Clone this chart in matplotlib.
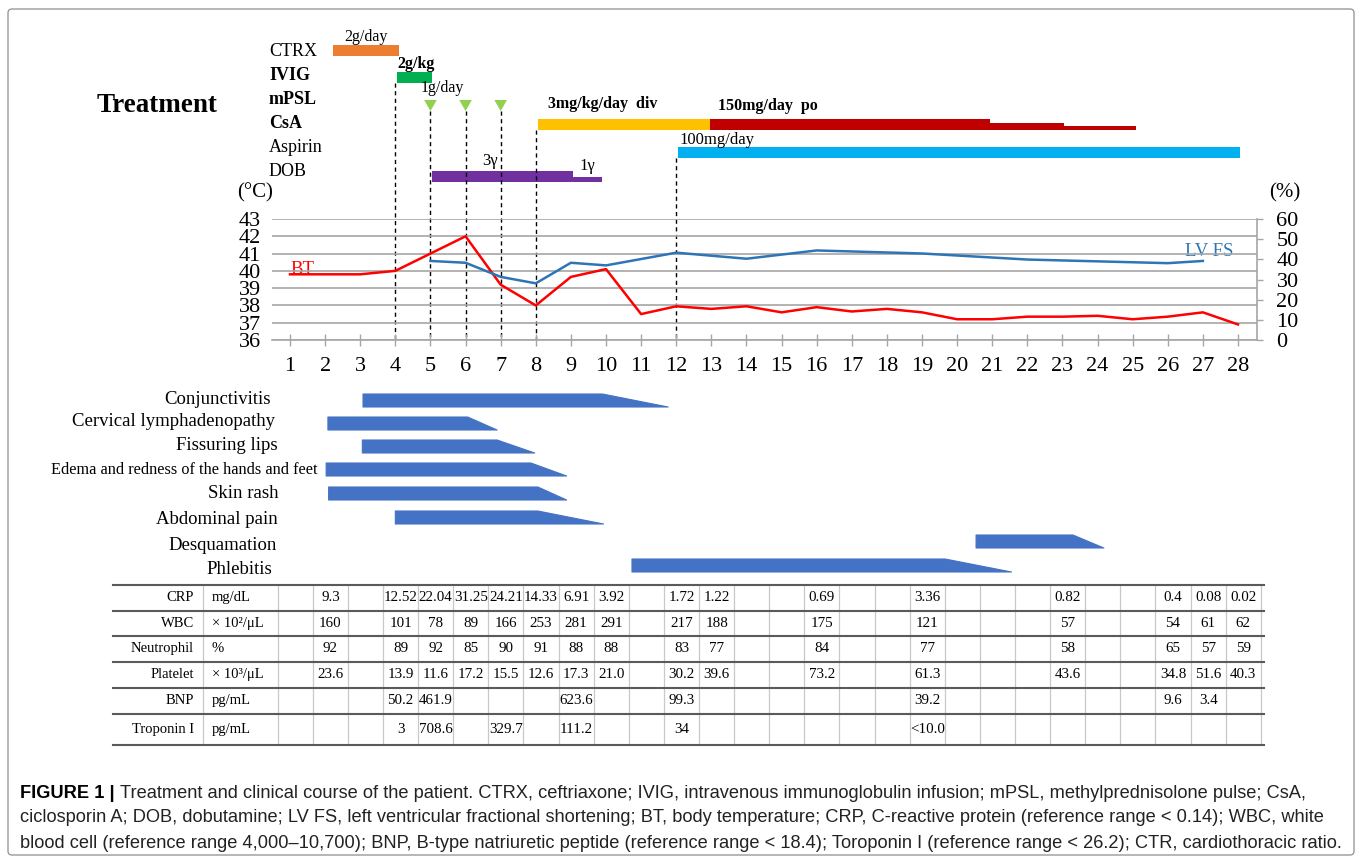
import matplotlib
matplotlib.use('Agg')
import matplotlib.pyplot as plt
from matplotlib.patches import Polygon, FancyBboxPatch
from matplotlib.transforms import IdentityTransform

# ---------------- data ----------------
days = list(range(1, 29))
bt = [39.8, 39.8, 39.8, 40.0, 41.0, 42.0, 39.2, 38.0, 39.65, 40.1, 37.5, 37.95,
      37.8, 37.95, 37.6, 37.9, 37.65, 37.8, 37.6, 37.2, 37.2, 37.35, 37.35, 37.4,
      37.2, 37.35, 37.6, 36.9]
fs_days = [5, 6, 7, 8, 9, 10, 12, 14, 16, 19, 22, 26, 27]
lvfs = [39.2, 38.3, 31.3, 28.1, 38.3, 37.0, 43.3, 40.3, 44.4, 42.9, 39.9, 38.1, 39.2]

treat_names = ['CTRX', 'IVIG', 'mPSL', 'CsA', 'Aspirin', 'DOB']
treat_bold = [False, True, True, True, False, False]
ctrx = (2.22, 4.10)
ivig = (4.05, 5.04)
mpsl_days = [5, 6, 7]
csa_iv = (8.05, 12.95)
csa_po_start = [12.95, 20.95, 23.05]
csa_po_end = [20.95, 23.05, 25.10]
csa_po_rel = [1.0, 0.62, 0.3]
aspirin = (12.05, 28.05)
dob_start = [5.05, 9.05]
dob_end = [9.05, 9.90]
dob_rel = [1.0, 0.45]
dashed_days = [4, 5, 6, 7, 8, 12]

symptoms = ['Conjunctivitis', 'Cervical lymphadenopathy', 'Fissuring lips',
            'Edema and redness of the hands and feet', 'Skin rash',
            'Abdominal pain', 'Desquamation', 'Phlebitis']
sym_start = [3.08, 2.08, 3.06, 2.03, 2.10, 4.00, 20.54, 10.74]
sym_flat_end = [9.90, 6.06, 6.90, 7.86, 8.06, 8.06, 23.30, 19.66]
sym_end = [11.77, 6.90, 7.97, 8.88, 8.88, 9.93, 24.18, 21.55]

lab_names = ['CRP', 'WBC', 'Neutrophil', 'Platelet', 'BNP', 'Troponin I']
lab_units = ['mg/dL', '× 10²/μL', '%', '× 10³/μL', 'pg/mL', 'pg/mL']
lab_days_main = [2, 4, 5, 6, 7, 8, 9, 10, 12, 13, 16, 19, 23, 26, 27, 28]
crp = ['9.3', '12.52', '22.04', '31.25', '24.21', '14.33', '6.91', '3.92', '1.72',
       '1.22', '0.69', '3.36', '0.82', '0.4', '0.08', '0.02']
wbc = ['160', '101', '78', '89', '166', '253', '281', '291', '217', '188', '175',
       '121', '57', '54', '61', '62']
neut = ['92', '89', '92', '85', '90', '91', '88', '88', '83', '77', '84', '77',
        '58', '65', '57', '59']
plt_vals = ['23.6', '13.9', '11.6', '17.2', '15.5', '12.6', '17.3', '21.0', '30.2',
            '39.6', '73.2', '61.3', '43.6', '34.8', '51.6', '40.3']
bnp_days = [4, 5, 9, 12, 19, 26, 27]
bnp = ['50.2', '461.9', '623.6', '99.3', '39.2', '9.6', '3.4']
tni_days = [4, 5, 7, 9, 12, 19]
tni = ['3', '708.6', '329.7', '111.2', '34', '<10.0']

caption_bold = 'FIGURE 1 |'
caption_lines = [
    'Treatment and clinical course of the patient. CTRX, ceftriaxone; IVIG, intravenous immunoglobulin infusion; mPSL, methylprednisolone pulse; CsA,',
    'ciclosporin A; DOB, dobutamine; LV FS, left ventricular fractional shortening; BT, body temperature; CRP, C-reactive protein (reference range < 0.14); WBC, white',
    'blood cell (reference range 4,000–10,700); BNP, B-type natriuretic peptide (reference range < 18.4); Toroponin I (reference range < 26.2); CTR, cardiothoracic ratio.',
]

# ---------------- layout ----------------
W, H = 1357, 860
D1, D28 = 290.0, 1238.0
PPD = (D28 - D1) / 27.0


def px2day(px):
    return 1 + (px - D1) / PPD


SERIF = ['Liberation Serif', 'DejaVu Serif']
CAPF = ['Liberation Sans Narrow', 'Liberation Sans', 'DejaVu Sans']
plt.rcParams['font.family'] = SERIF

fig = plt.figure(figsize=(W / 100, H / 100), dpi=100)
ov = fig.add_axes([0, 0, 1, 1])
ov.set_xlim(px2day(0), px2day(W))
ov.set_ylim(H, 0)
ov.axis('off')

# outer frame
fig.add_artist(FancyBboxPatch((8, 5), 1346, 846, boxstyle='round,pad=0,rounding_size=4',
                              fc='none', ec='#9a9a9a', lw=1.0, transform=IdentityTransform()))

# ---------------- treatment ----------------
ov.text(px2day(97), 106, 'Treatment', fontsize=19.5, weight='bold', va='center', ha='left')
row_y = [51, 76, 100, 124, 148, 172]
for nm, b, y in zip(treat_names, treat_bold, row_y):
    ov.text(px2day(269), y, nm, fontsize=13, weight='bold' if b else 'normal',
            va='center', ha='left')

BH = 11
ov.barh(50.5, ctrx[1] - ctrx[0], left=ctrx[0], height=BH, color='#ED7D31')
ov.text((ctrx[0] + ctrx[1]) / 2, 37, '2g/day', fontsize=11.5, ha='center', va='center')
ov.barh(77.5, ivig[1] - ivig[0], left=ivig[0], height=BH, color='#00B050')
ov.text(ivig[0] + 0.02, 64, '2g/kg', fontsize=11.5, weight='bold', ha='left', va='center')
for d in mpsl_days:
    ov.fill([d - 0.18, d + 0.18, d], [100, 100, 111], color='#92D050', lw=0)
ov.text(px2day(421), 88, '1g/day', fontsize=11.5, ha='left', va='center')
csa_bottom = 129.5
ov.barh(csa_bottom - BH / 2, csa_iv[1] - csa_iv[0], left=csa_iv[0], height=BH, color='#FFC000')
for s, e, r in zip(csa_po_start, csa_po_end, csa_po_rel):
    h = BH * r
    ov.barh(csa_bottom - h / 2, e - s, left=s, height=h, color='#C00000')
ov.text(px2day(548), 104, '3mg/kg/day  div', fontsize=11.5, weight='bold', ha='left', va='center')
ov.text(px2day(718), 106, '150mg/day  po', fontsize=11.5, weight='bold', ha='left', va='center')
ov.barh(152.5, aspirin[1] - aspirin[0], left=aspirin[0], height=BH, color='#00B0F0')
ov.text(px2day(679), 140, '100mg/day', fontsize=12, ha='left', va='center')
dob_bottom = 182
for s, e, r in zip(dob_start, dob_end, dob_rel):
    h = BH * r
    ov.barh(dob_bottom - h / 2, e - s, left=s, height=h, color='#7030A0')
ov.text(px2day(490), 161, '3γ', fontsize=12, ha='center', va='center')
ov.text(px2day(587), 166, '1γ', fontsize=12, ha='center', va='center')

dash_top = [83, 111, 111, 111, 129.5, 158]
for d, t in zip(dashed_days, dash_top):
    ov.plot([d, d], [t, 340], color='black', lw=1.0, ls=(0, (3, 2.5)))

# ---------------- main chart ----------------
L, R, T, B = 272, 1257, 219, 340
ax = fig.add_axes([L / W, 1 - B / H, (R - L) / W, (B - T) / H])
ax.patch.set_alpha(0)
ax.set_xlim(px2day(L), px2day(R))
ax.set_ylim(36, 43)
ax.set_yticks(range(36, 44))
ax.yaxis.grid(True, color='#a6a6a6', lw=1.2)
ax.set_axisbelow(True)
for sp in ['left', 'top']:
    ax.spines[sp].set_visible(False)
for sp in ['right', 'bottom']:
    ax.spines[sp].set_color('#a6a6a6')
    ax.spines[sp].set_linewidth(1.2)
ax.tick_params(axis='y', length=0, pad=8, labelsize=16)
ax.set_xticks(days)
ax.set_xticklabels([str(d) for d in days])
ax.tick_params(axis='x', direction='inout', length=9, width=1.0, color='#a6a6a6',
               pad=8, labelsize=16)
ax.plot(days, bt, color='#FF0000', lw=1.8)

ax2 = ax.twinx()
ax2.set_ylim(0, 60)
ax2.set_yticks(range(0, 61, 10))
for sp in ax2.spines.values():
    sp.set_visible(False)
ax2.tick_params(axis='y', direction='out', length=4, width=1.0, color='#a6a6a6',
                pad=10, labelsize=16)
ax2.plot(fs_days, lvfs, color='#2E75B6', lw=1.8)

ov.text(px2day(273), 193, '(°C)', fontsize=15, ha='right', va='center')
ov.text(px2day(1269), 193, '(%)', fontsize=15, ha='left', va='center')
ov.text(1, 274, 'BT', fontsize=13.5, color='#FF0000', ha='left', va='baseline')
ov.text(px2day(1185), 256, 'LV FS', fontsize=13.5, color='#2E75B6', ha='left', va='baseline')

# ---------------- symptoms ----------------
sym_label_y = [400, 422, 446, 470, 494, 519, 545, 570]
sym_label_right = [271, 275, 278, 318, 279, 278, 277, 272]
sym_label_size = [13.5, 13.5, 13.5, 11.7, 13.5, 13.5, 13.5, 13.5]
sym_bar_top = [394, 417, 440, 463, 487, 511, 535, 559]
SH = 13
for nm, ly, lr, ls_, bt_, s, fe, e in zip(symptoms, sym_label_y, sym_label_right,
                                          sym_label_size, sym_bar_top, sym_start,
                                          sym_flat_end, sym_end):
    ov.text(px2day(lr), ly, nm, fontsize=ls_, ha='right', va='center')
    ov.add_patch(Polygon([(s, bt_ + SH), (s, bt_), (fe, bt_), (e, bt_ + SH)],
                         closed=True, fc='#4472C4', ec='#4472C4', lw=0.8,
                         joinstyle='round'))

# ---------------- table ----------------
row_lines = [585, 610.5, 636, 661.5, 687.5, 714, 745]
TL, TR = 113, 1264
OFF = 0.15
for y in row_lines:
    ov.plot([px2day(TL), px2day(TR)], [y, y], color='#5a5a5a', lw=1.5)
vx = [px2day(203)] + [d - 0.5 + OFF for d in days] + [28.5 + OFF]
for x in vx:
    ov.plot([x, x], [row_lines[0], row_lines[-1]], color='#c8c8c8', lw=0.9, zorder=0)
row_c = [(a + b) / 2 for a, b in zip(row_lines[:-1], row_lines[1:])]
for nm, un, y in zip(lab_names, lab_units, row_c):
    ov.text(px2day(194), y, nm, fontsize=10.5, ha='right', va='center')
    ov.text(px2day(212), y, un, fontsize=10.5, ha='left', va='center')
for vals, y in zip([crp, wbc, neut, plt_vals], row_c[:4]):
    for d, v in zip(lab_days_main, vals):
        ov.text(d + OFF, y, v, fontsize=10.8, ha='center', va='center')
for d, v in zip(bnp_days, bnp):
    ov.text(d + OFF, row_c[4], v, fontsize=10.8, ha='center', va='center')
for d, v in zip(tni_days, tni):
    ov.text(d + OFF, row_c[5], v, fontsize=10.8, ha='center', va='center')

# ---------------- caption ----------------
renderer = fig.canvas.get_renderer()
cap_y = [793, 818, 843]
cap_end = [1314, 1326, 1336]
base = 12.0
tb = fig.text(20 / W, 1 - cap_y[0] / H, caption_bold, family=CAPF, weight='bold',
              fontsize=base, va='center', ha='left')
probe = [fig.text(0, 0, ln, family=CAPF, fontsize=base) for ln in caption_lines]
wb = tb.get_window_extent(renderer).width
space = fig.text(0, 0, ' ', family=CAPF, fontsize=base).get_window_extent(renderer).width
widths = [p.get_window_extent(renderer).width for p in probe]
for p in probe:
    p.remove()
targets = [cap_end[0] - 20 - wb - space, cap_end[1] - 20, cap_end[2] - 20]
scale = sum(t / w for t, w in zip(targets, widths)) / 3
size = base * scale
tb.set_fontsize(size)
wb = tb.get_window_extent(renderer).width
space = space * scale
fig.text((20 + wb + space) / W, 1 - cap_y[0] / H, caption_lines[0], family=CAPF,
         fontsize=size, va='center', ha='left', color='#222222')
for ln, y in zip(caption_lines[1:], cap_y[1:]):
    fig.text(20 / W, 1 - y / H, ln, family=CAPF, fontsize=size, va='center',
             ha='left', color='#222222')

fig.savefig('out.png', dpi=100)
